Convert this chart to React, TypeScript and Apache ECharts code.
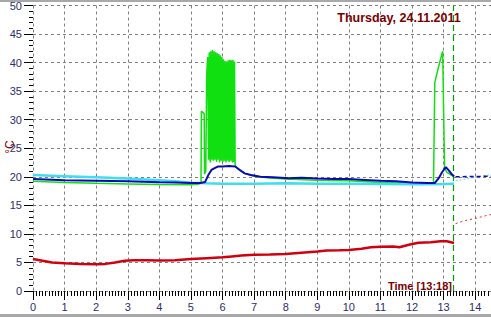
import React, { useEffect, useRef } from "react";
import * as echarts from "echarts";

// ---- data (hours of day -> °C) ----
const redHours = [0, 0.3, 0.6, 1.0, 1.5, 2.0, 2.3, 2.6, 2.9, 3.2, 3.6, 4.0, 4.5, 5.0, 5.5, 6.0, 6.3, 6.6, 7.0, 7.5, 8.0, 8.5, 9.0, 9.3, 9.7, 10.0, 10.4, 10.7, 11.0, 11.4, 11.6, 11.9, 12.2, 12.6, 12.9, 13.1, 13.33];
const redValues = [5.6, 5.3, 5.0, 4.85, 4.75, 4.7, 4.75, 5.0, 5.3, 5.4, 5.4, 5.35, 5.4, 5.6, 5.75, 5.9, 6.05, 6.2, 6.35, 6.4, 6.5, 6.7, 6.9, 7.1, 7.15, 7.2, 7.4, 7.65, 7.75, 7.8, 7.65, 8.1, 8.45, 8.55, 8.7, 8.7, 8.4];

const cyanHours = [0, 1, 2, 3, 4, 4.5, 5, 5.5, 6, 7, 8, 9, 10, 11, 12, 12.5, 13, 13.33];
const cyanValues = [20.3, 20.1, 19.9, 19.7, 19.4, 19.2, 18.95, 18.85, 18.8, 18.8, 18.85, 18.8, 18.8, 18.75, 18.7, 18.7, 18.75, 18.8];

const blueHours = [0, 1, 2, 3, 4, 4.5, 5, 5.3, 5.45, 5.55, 5.65, 5.75, 5.85, 6.0, 6.2, 6.4, 6.55, 6.7, 6.9, 7.2, 7.6, 8.1, 8.5, 9, 9.5, 10, 10.5, 11, 11.5, 12, 12.5, 12.72, 12.85, 12.95, 13.07, 13.15, 13.25, 13.33];
const blueValues = [19.6, 19.4, 19.3, 19.2, 19.05, 19.0, 18.9, 18.9, 19.1, 20.3, 21.2, 21.5, 21.8, 21.8, 21.9, 21.8, 21.2, 20.6, 20.3, 20.0, 19.9, 19.75, 19.85, 19.7, 19.6, 19.6, 19.45, 19.3, 19.2, 19.0, 18.9, 18.9, 19.8, 20.8, 21.7, 21.2, 20.5, 20.1];

const greenHours = [0, 1, 2, 3, 4, 5.0, 5.25, 5.32, 5.33, 5.42, 5.43, 5.47, 5.5, 5.53,
  5.56, 5.58, 5.61, 5.63, 5.66, 5.68, 5.71, 5.73, 5.76, 5.78, 5.81, 5.83, 5.86, 5.88, 5.91, 5.93, 5.96, 5.98,
  6.01, 6.03, 6.06, 6.08, 6.11, 6.13, 6.16, 6.18, 6.21, 6.23, 6.26, 6.28, 6.31, 6.33, 6.36, 6.38,
  6.40, 6.5, 6.7, 7.0, 7.5, 8, 9, 10, 11, 12, 12.68, 12.72, 12.85, 12.97, 13.03, 13.1, 13.33];
const greenValues = [19.2, 19.0, 18.85, 18.75, 18.65, 18.6, 18.7, 19.0, 31.5, 31.0, 20.5, 21.0, 38.0, 41.0,
  23, 41.8, 22.5, 42.0, 23, 42.2, 22.8, 42.0, 23, 41.8, 22.6, 41.7, 23, 41.5, 22.5, 41.3, 22.8, 41.0,
  22.6, 40.6, 22.8, 40.3, 22.5, 40.2, 22.8, 40.4, 22.6, 40.5, 22.8, 40.4, 22.5, 40.5, 22.6, 40.2,
  22.0, 21.3, 20.6, 20.1, 19.8, 19.6, 19.4, 19.3, 19.0, 18.85, 18.8, 36.5, 39.5, 42.0, 21.5, 20.8, 20.0];

// forecast extensions after "now"
const redFcHours = [13.38, 13.6, 13.8, 14.0, 14.2, 14.5];
const redFcValues = [11.8, 12.2, 12.5, 12.7, 13.0, 13.4];
const blueFcHours = [13.38, 14.5];
const blueFcValues = [20.0, 20.1];
const cyanFcHours = [13.38, 14.5];
const cyanFcValues = [19.3, 20.4];

const nowHour = 13.3;
const titleText = "Thursday, 24.11.2011";
const nowText = "Time [13:18]";
const unitText = "°C";

const zip = (xs: number[], ys: number[]) => xs.map((x, i) => [x, ys[i]]);

export default function App() {
  const ref = useRef<HTMLDivElement>(null);
  useEffect(() => {
    document.body.style.margin = "0";
    const chart = echarts.init(ref.current!, undefined, { renderer: "svg" });
    const labelColor = "#2e2e6e";
    const maroon = "#7a0000";
    chart.setOption({
      animation: false,
      backgroundColor: "#ffffff",
      grid: { left: 33, right: 0, top: 5, bottom: 26, containLabel: false },
      xAxis: {
        type: "value",
        min: 0,
        max: 14.5,
        interval: 1,
        axisLine: { show: false },
        axisTick: { show: true, length: 9, lineStyle: { color: "#000", width: 1 } },
        minorTick: { show: true, splitNumber: 10, length: 5, lineStyle: { color: "#000", width: 1 } },
        axisLabel: {
          color: labelColor,
          fontFamily: "Liberation Sans",
          fontSize: 11,
          margin: 10,
          showMaxLabel: false,
          formatter: (v: number) => (Number.isInteger(v) ? String(v) : ""),
        },
        splitLine: { show: true, lineStyle: { color: "#808080", type: [3, 3], width: 1 } },
      },
      yAxis: {
        type: "value",
        min: 0,
        max: 50,
        interval: 5,
        axisLine: { show: false },
        axisTick: { show: true, length: 9, lineStyle: { color: "#000", width: 1 } },
        minorTick: { show: true, splitNumber: 5, length: 4, lineStyle: { color: "#000", width: 1 } },
        axisLabel: { color: labelColor, fontFamily: "Liberation Sans", fontSize: 11, margin: 11 },
        splitLine: { show: true, lineStyle: { color: "#808080", type: [3, 3], width: 1 } },
      },
      series: [
        {
          type: "line", data: zip(redHours, redValues), showSymbol: false,
          lineStyle: { color: "#d00010", width: 2.5 }, z: 2,
        },
        {
          type: "line", data: zip(redFcHours, redFcValues), showSymbol: false,
          lineStyle: { color: "#d03030", width: 1, type: [2, 3] }, z: 2,
        },
        {
          type: "line", data: zip(greenHours, greenValues), showSymbol: false,
          lineStyle: { color: "#10e010", width: 1.5 }, z: 3,
        },
        {
          type: "line", data: zip(cyanHours, cyanValues), showSymbol: false,
          lineStyle: { color: "#40dcf0", width: 2.5 }, z: 4,
        },
        {
          type: "line", data: zip(cyanFcHours, cyanFcValues), showSymbol: false,
          lineStyle: { color: "#60e0f0", width: 1, type: [2, 2] }, z: 4,
        },
        {
          type: "line", data: zip(blueHours, blueValues), showSymbol: false,
          lineStyle: { color: "#0a0ab4", width: 2 }, z: 5,
          markLine: {
            silent: true,
            symbol: "none",
            label: { show: false },
            lineStyle: { color: "#00a000", type: [6, 4], width: 1.2 },
            data: [{ xAxis: nowHour }],
          },
        },
        {
          type: "line", data: zip(blueFcHours, blueFcValues), showSymbol: false,
          lineStyle: { color: "#0a0ab4", width: 1.5, type: [4, 3] }, z: 5,
        },
      ],
      graphic: [
        { type: "rect", shape: { x: 0, y: 0, width: 491, height: 2 }, style: { fill: "#a8a8a8" }, z: 100 },
        { type: "rect", shape: { x: 0, y: 314, width: 491, height: 3 }, style: { fill: "#a8a8a8" }, z: 100 },
        {
          type: "text", x: 399, y: 18, z: 100,
          style: { text: titleText, fill: maroon, font: "bold 12.5px 'Liberation Sans'", align: "center", verticalAlign: "middle" },
        },
        {
          type: "text", x: 452, y: 286, z: 100,
          style: { text: nowText, fill: maroon, font: "bold 11px 'Liberation Sans'", align: "right", verticalAlign: "middle" },
        },
        {
          type: "text", x: 10, y: 147, rotation: Math.PI / 2, z: 100,
          style: { text: unitText, fill: maroon, font: "12px 'Liberation Sans'", align: "center", verticalAlign: "middle" },
        },
      ],
    });
    return () => chart.dispose();
  }, []);
  return <div ref={ref} style={{ position: "absolute", left: 0, top: 0, width: 491, height: 317 }} />;
}
